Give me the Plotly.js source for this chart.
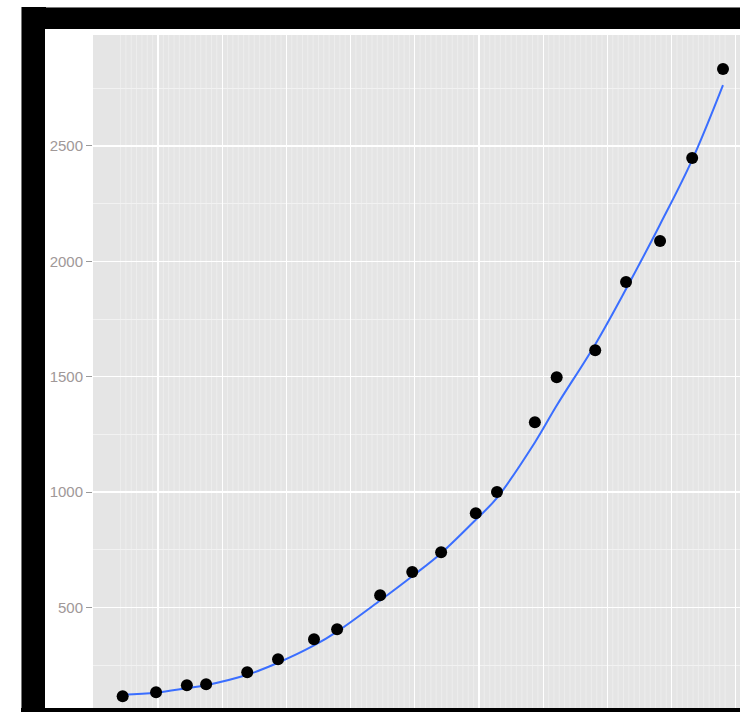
<!DOCTYPE html>
<html>
<head>
<meta charset="utf-8">
<script src="https://cdn.plot.ly/plotly-3.0.1.min.js"></script>
<style>
html,body{margin:0;padding:0;background:#fff;width:740px;height:712px;overflow:hidden;position:relative;}
.blk{position:absolute;background:#000;}
#chart{position:absolute;left:45px;top:29px;width:695px;height:679px;}
</style>
</head>
<body>
<div class="blk" style="left:21px;top:7px;width:719px;height:22px;border-top:1px solid #777;"></div>
<div class="blk" style="left:21px;top:7px;width:24px;height:705px;border-left:1px solid #777;"></div>
<div class="blk" style="left:21px;top:708px;width:719px;height:4px;"></div>
<div id="chart"></div>
<script>
// x positions (decimal years) and observed values
const xVals = [1999.45, 1999.97, 2000.45, 2000.75, 2001.39, 2001.87, 2002.43, 2002.79, 2003.46, 2003.96,
               2004.41, 2004.95, 2005.28, 2005.87, 2006.21, 2006.81, 2007.29, 2007.82, 2008.32, 2008.80];
const yVals = [115, 132, 163, 167, 219, 275, 362, 405, 553, 653,
               739, 908, 1000, 1303, 1498, 1615, 1910, 2088, 2448, 2834];
// smoothed (loess) fit at the same x positions
const smoothVals = [121, 130, 150, 163, 208, 260, 335, 395, 530, 635,
                    735, 880, 975, 1215, 1375, 1640, 1880, 2160, 2440, 2764];
const yTicks = [500, 1000, 1500, 2000, 2500];
const yTickText = ['500', '1000', '1500', '2000', '2500'];

// dense minor vertical grid (monthly) across the data span
const shapes = [];
const gStart = 1999.39, gEnd = 2008.87;
for (let m = Math.ceil(gStart * 12); m <= Math.floor(gEnd * 12); m++) {
  if (m % 12 === 0) continue;
  const xv = m / 12;
  shapes.push({type: 'line', xref: 'x', yref: 'paper', x0: xv, x1: xv, y0: 0, y1: 1,
               layer: 'below', line: {color: '#EDEDED', width: 1}});
}

const traces = [
  {x: xVals, y: smoothVals, type: 'scatter', mode: 'lines',
   line: {color: '#3A6EFF', width: 2, shape: 'spline', smoothing: 1}, hoverinfo: 'skip'},
  {x: xVals, y: yVals, type: 'scatter', mode: 'markers',
   marker: {color: '#000000', size: 12}}
];

const layout = {
  width: 695, height: 679,
  margin: {l: 48, r: 0, t: 6, b: 0, pad: 0},
  paper_bgcolor: '#ffffff',
  plot_bgcolor: '#E5E5E5',
  showlegend: false,
  shapes: shapes,
  xaxis: {
    range: [1998.988, 2009.065], tick0: 2000, dtick: 1,
    showgrid: true, gridcolor: '#ffffff', gridwidth: 1.3,
    showticklabels: false, ticks: '', zeroline: false, showline: false
  },
  yaxis: {
    range: [64, 2981], tickmode: 'array', tickvals: yTicks, ticktext: yTickText,
    showgrid: true, gridcolor: '#ffffff', gridwidth: 1.3,
    minor: {dtick: 250, tick0: 0, showgrid: true, gridcolor: '#F2F2F2', gridwidth: 1, ticks: ''},
    ticks: 'outside', ticklen: 6, tickwidth: 1, tickcolor: '#9a9a9a',
    tickfont: {family: '"Liberation Sans", Arial, sans-serif', size: 15, color: '#A09898'},
    zeroline: false, showline: false
  }
};

Plotly.newPlot('chart', traces, layout, {staticPlot: true, displayModeBar: false});
</script>
</body>
</html>
